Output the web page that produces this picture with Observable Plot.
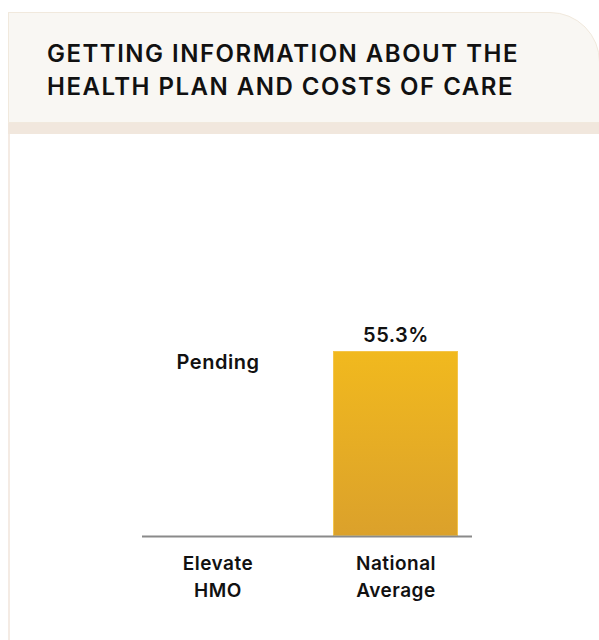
<!DOCTYPE html>
<html>
<head>
<meta charset="utf-8">
<script src="https://cdn.jsdelivr.net/npm/d3@7"></script>
<script src="https://cdn.jsdelivr.net/npm/@observablehq/plot@0.6"></script>
<style>
  html, body { margin: 0; padding: 0; background: #fff; width: 599px; height: 640px; overflow: hidden; }
  body { position: relative; font-family: Inter, "Noto Sans", sans-serif; }
  .card { position: absolute; left: 8px; top: 12px; width: 640px; height: 640px;
          border-left: 2px solid #f4ebe4; }
  .head { position: absolute; left: 8px; top: 12px; width: 592px; height: 111px;
          background: #f9f7f3; border: 1px solid #f1e9dd; border-top-right-radius: 50px; box-sizing: border-box; }
  .head h1 { margin: 0; position: absolute; left: 38px; top: 24px; font-size: 24px; line-height: 33px;
             font-weight: 600; color: #111; letter-spacing: 1.5px; font-family: Inter, sans-serif; white-space: nowrap; }
  .band { position: absolute; left: 8px; top: 123px; width: 640px; height: 11px; background: #f1e7dd; }
  #chart { position: absolute; left: 0; top: 134px; }
</style>
</head>
<body>
<div class="card"></div>
<div class="head"><h1>GETTING INFORMATION ABOUT THE<br>HEALTH PLAN AND COSTS OF CARE</h1></div>
<div class="band"></div>
<div id="chart"></div>
<script>
const categories = ["Elevate HMO", "National Average"];
const axisLabels = ["Elevate\nHMO", "National\nAverage"];
const values = [null, 55.3];
const valueLabels = ["Pending", "55.3%"];

const data = categories.map((c, i) => ({cat: c, value: values[i], label: valueLabels[i], axis: axisLabels[i]}));
const maxVal = d3.max(values);

const chart = Plot.plot({
  width: 599,
  height: 506,
  marginLeft: 142,
  marginRight: 127,
  marginTop: 67.5,
  marginBottom: 104,
  style: {fontFamily: "Inter, sans-serif", color: "#111", background: "transparent", letterSpacing: "0.5px"},
  x: {domain: categories, paddingInner: 0.296, paddingOuter: 0.07, axis: null},
  y: {domain: [0, 100], axis: null},
  marks: [
    () => {
      const svg = d3.create("svg:defs");
      const g = svg.append("linearGradient").attr("id", "barGrad").attr("x1", 0).attr("x2", 0).attr("y1", 0).attr("y2", 1);
      g.append("stop").attr("offset", "0%").attr("stop-color", "#f1b91e");
      g.append("stop").attr("offset", "100%").attr("stop-color", "#dba12b");
      return svg.node();
    },
    Plot.barY(data.filter(d => d.value != null), {x: "cat", y: "value", fill: "url(#barGrad)", stroke: "#f4c54a", strokeWidth: 1, inset: 0.5}),
    Plot.ruleY([0], {stroke: "#8a8a8a", strokeWidth: 2}),
    Plot.text(data.filter(d => d.value != null), {x: "cat", y: "value", text: "label", dy: -16, fontSize: 20, fontWeight: 600, fill: "#111"}),
    Plot.text(data.filter(d => d.value == null), {x: "cat", y: () => maxVal, text: "label", dy: 11, fontSize: 20, fontWeight: 600, fill: "#111"}),
    Plot.text(data, {x: "cat", y: 0, text: "axis", lineAnchor: "top", dy: 14, fontSize: 19, fontWeight: 600, lineHeight: 1.42, fill: "#111"})
  ]
});
document.getElementById("chart").appendChild(chart);
</script>
</body>
</html>
